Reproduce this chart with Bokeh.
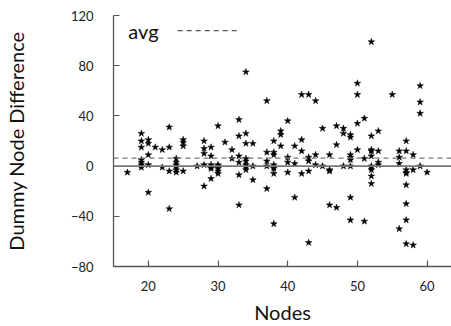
from bokeh.plotting import figure
from bokeh.models import Range1d, FixedTicker, Span, Label
from bokeh.embed import file_html
from bokeh.resources import INLINE

# ---- data ----
node_groups = [17, 19, 20, 21, 22, 23, 24, 25, 27, 28, 29, 30, 31, 32, 33, 34, 35,
               37, 38, 39, 40, 41, 42, 43, 44, 45, 46, 47, 48, 49, 50, 51, 52, 53,
               55, 56, 57, 58, 59, 60]
diff_groups = [
    [-5],
    [26, 20, 15, 5, 3, 1, -1],
    [21, 18, 9, 1, -21],
    [15],
    [13, -1],
    [31, 15, -4, -34],
    [6, 3, 1, -1, -3, -5],
    [21, 19, 16, -4],
    [0],
    [20, 14, 10, 1, -16],
    [15, 8, 1, -1, -2, -10],
    [32, 1, 0, -2, -4, -6],
    [19],
    [13, 6],
    [37, 24, 8, 3, -7, -31],
    [75, 26, 18, 6, 4, 1, -1, -3],
    [18, 0, -11],
    [52, 11, 4, 0, -18],
    [20, 11, 9, 1, -1, -2, -6, -46],
    [28, 25, 16],
    [36, 7, 3, -5],
    [16, 2, -25],
    [57, 21, 12, -6],
    [57, 7, 4, -4, -61],
    [52, 9, 1],
    [30, 0],
    [9, -3, -4, -31],
    [32, 17, -33],
    [30, 26, 0],
    [25, 23, 9, 7, 5, 0, -25, -43],
    [66, 57, 34, 13],
    [38, 6, -44],
    [99, 24, 13, 12, 8, 0, -1, -3, -8, -14],
    [28, 12, 3, 1],
    [57],
    [12, 7, 2, -50],
    [20, 12, -3, -5, -6, -15, -30, -43, -62],
    [9, -3, -63],
    [64, 51, 42, 0],
    [-5],
]
avg_value = 6.4
x_ticks = [20, 30, 40, 50, 60]
y_ticks = [-80, -40, 0, 40, 80, 120]
x_title = "Nodes"
y_title = "Dummy Node Difference"

nodes = []
diffs = []
for n, vals in zip(node_groups, diff_groups):
    for v in vals:
        nodes.append(n)
        diffs.append(v)

FONT = "Lato"
X0, X1 = 15, 63.5
Y0, Y1 = -80, 120

p = figure(width=451, height=326, output_backend="svg", toolbar_location=None,
           x_range=Range1d(X0, X1), y_range=Range1d(Y0, Y1),
           min_border_left=113, min_border_right=0, min_border_top=15,
           min_border_bottom=60)
p.outline_line_color = None
p.xgrid.visible = False
p.ygrid.visible = False
p.background_fill_color = "white"
p.border_fill_color = "white"

for ax in (p.xaxis[0], p.yaxis[0]):
    ax.axis_line_color = "#555555"
    ax.axis_line_width = 1.3
    ax.major_tick_line_color = "#555555"
    ax.major_tick_line_width = 1.2
    ax.major_tick_in = 6
    ax.major_tick_out = 0
    ax.minor_tick_line_color = None
    ax.major_label_text_font = FONT
    ax.major_label_text_font_size = "13px"
    ax.major_label_text_color = "#222222"
    ax.axis_label_text_font = FONT
    ax.axis_label_text_font_size = "20px"
    ax.axis_label_text_font_style = "normal"
    ax.axis_label_text_color = "#111111"

p.xaxis.ticker = FixedTicker(ticks=x_ticks)
p.yaxis.ticker = FixedTicker(ticks=y_ticks)
p.xaxis.axis_label = x_title
p.yaxis.axis_label = y_title
p.xaxis.major_label_standoff = 14
p.xaxis.axis_label_standoff = 6
p.yaxis.major_label_standoff = 20
p.yaxis.axis_label_standoff = 40

zero_line = Span(location=0, dimension="width", line_color="#777777", line_width=1.7)
avg_line = Span(location=avg_value, dimension="width", line_color="#777777",
                line_width=1.3, line_dash="5 4")
p.add_layout(zero_line)
p.add_layout(avg_line)

p.scatter(nodes, diffs, marker="star", size=7, fill_color="black",
          line_color="black", line_width=0.5)

# legend (label first, then dashed key), placed by frame fractions
lx = X0 + 0.044 * (X1 - X0)
ly = Y0 + 0.94 * (Y1 - Y0)
p.add_layout(Label(x=lx, y=ly, text="avg", text_font=FONT, text_font_size="20px",
                   text_baseline="middle", text_color="#111111"))
kx0 = X0 + 0.19 * (X1 - X0)
kx1 = X0 + 0.375 * (X1 - X0)
p.line([kx0, kx1], [ly, ly], line_color="#555555", line_width=1.2, line_dash="5 4")

open("out.html", "w").write(file_html(p, INLINE))
